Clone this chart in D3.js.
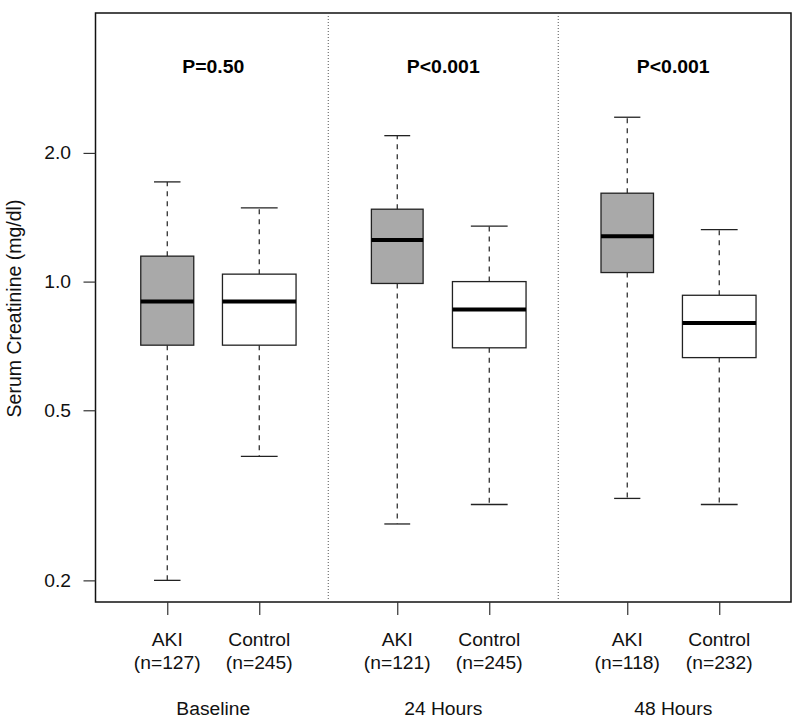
<!DOCTYPE html>
<html>
<head>
<meta charset="utf-8">
<script src="https://cdn.jsdelivr.net/npm/d3@7"></script>
<style>
  html, body { margin: 0; padding: 0; background: #fff; }
  svg { display: block; font-family: "Liberation Sans", Arial, sans-serif; }
</style>
</head>
<body>
<svg id="chart" width="800" height="727"></svg>
<script>
// ---- data ----
const timepoints = ["Baseline", "24 Hours", "48 Hours"];
const pLabels = ["P=0.50", "P<0.001", "P<0.001"];
const categories = ["AKI", "Control"];
const nCounts = [[127, 245], [121, 245], [118, 232]];
// per box, order: Baseline AKI, Baseline Control, 24h AKI, 24h Control, 48h AKI, 48h Control
const whiskerLow  = [0.20, 0.39, 0.271, 0.301, 0.311, 0.301];
const q1          = [0.71, 0.71, 0.99, 0.70, 1.05, 0.664];
const medians     = [0.898, 0.898, 1.252, 0.86, 1.277, 0.80];
const q3          = [1.147, 1.041, 1.477, 1.0, 1.61, 0.929];
const whiskerHigh = [1.711, 1.487, 2.195, 1.348, 2.424, 1.323];
const yTicks = [0.2, 0.5, 1.0, 2.0];
const yTitle = "Serum Creatinine (mg/dl)";

// ---- layout ----
const svg = d3.select("#chart");
const plot = { left: 95.5, right: 791, top: 13, bottom: 602 };
const SX = 1.07;   // horizontal stretch of regular text
const SXB = 1.11;  // horizontal stretch of bold text

const x = d3.scaleLinear().domain([0.22, 7.78]).range([plot.left, plot.right]);
const y = d3.scaleLog().domain([0.178, 4.25]).range([plot.bottom, plot.top]);

const boxes = [];
timepoints.forEach((tp, g) => {
  const maxN = d3.max(nCounts[g]);
  categories.forEach((cat, i) => {
    const k = g * 2 + i;
    boxes.push({
      g, i, cat, tp, n: nCounts[g][i],
      pos: 1 + g * 2.5 + i,
      w: 0.8 * Math.sqrt(nCounts[g][i] / maxN),
      lo: whiskerLow[k], q1: q1[k], med: medians[k], q3: q3[k], hi: whiskerHigh[k]
    });
  });
});

const fills = { "AKI": "#a9a9a9", "Control": "#ffffff" };

function label(px, py, str, size, bold, sx) {
  return svg.append("text")
    .attr("transform", `translate(${px},${py}) scale(${sx},1)`)
    .attr("text-anchor", "middle")
    .attr("font-size", size)
    .attr("font-weight", bold ? "bold" : "normal")
    .attr("fill", bold ? "#000" : "#111")
    .text(str);
}

// separators
[2.75, 5.25].forEach(p => {
  svg.append("line")
    .attr("x1", x(p)).attr("x2", x(p))
    .attr("y1", plot.top + 3).attr("y2", plot.bottom - 3)
    .attr("stroke", "#555").attr("stroke-width", 1)
    .attr("stroke-dasharray", "1,2");
});

// boxes
const bg = svg.append("g");
boxes.forEach(b => {
  const cx = x(b.pos);
  const half = (x(b.pos + b.w / 2) - x(b.pos - b.w / 2)) / 2;
  const g = bg.append("g");
  g.append("line").attr("x1", cx).attr("x2", cx).attr("y1", y(b.q3)).attr("y2", y(b.hi))
    .attr("stroke", "#222").attr("stroke-width", 1.2).attr("stroke-dasharray", "5,5");
  g.append("line").attr("x1", cx).attr("x2", cx).attr("y1", y(b.q1)).attr("y2", y(b.lo))
    .attr("stroke", "#222").attr("stroke-width", 1.2).attr("stroke-dasharray", "5,5");
  [b.hi, b.lo].forEach(v => {
    g.append("line").attr("x1", cx - half / 2).attr("x2", cx + half / 2)
      .attr("y1", y(v)).attr("y2", y(v))
      .attr("stroke", "#222").attr("stroke-width", 1.3);
  });
  g.append("rect")
    .attr("x", cx - half).attr("width", 2 * half)
    .attr("y", y(b.q3)).attr("height", y(b.q1) - y(b.q3))
    .attr("fill", fills[b.cat]).attr("stroke", "#222").attr("stroke-width", 1.3);
  g.append("line").attr("x1", cx - half).attr("x2", cx + half)
    .attr("y1", y(b.med)).attr("y2", y(b.med))
    .attr("stroke", "#000").attr("stroke-width", 4);
});

// frame
svg.append("rect")
  .attr("x", plot.left).attr("y", plot.top)
  .attr("width", plot.right - plot.left).attr("height", plot.bottom - plot.top)
  .attr("fill", "none").attr("stroke", "#111").attr("stroke-width", 1.5);

// y axis
const yAxis = d3.axisLeft(y).tickValues(yTicks).tickFormat(d3.format(".1f")).tickSize(12).tickPadding(12);
const ya = svg.append("g").attr("transform", `translate(${plot.left},0)`).call(yAxis);
ya.select(".domain").remove();
ya.selectAll(".tick line").attr("stroke", "#333").attr("stroke-width", 1.2);
ya.selectAll(".tick text")
  .attr("font-size", 18).attr("fill", "#111")
  .attr("font-family", "'Liberation Sans', Arial, sans-serif")
  .attr("x", -24.5 / SX)
  .attr("transform", `scale(${SX},1)`);

// x axis ticks
const xAxis = d3.axisBottom(x).tickValues(boxes.map(b => b.pos)).tickFormat("").tickSize(13);
const xa = svg.append("g").attr("transform", `translate(0,${plot.bottom})`).call(xAxis);
xa.select(".domain").remove();
xa.selectAll(".tick line").attr("stroke", "#333").attr("stroke-width", 1.2);

// x labels
boxes.forEach(b => {
  label(x(b.pos), 645.5, b.cat, 18, false, SX);
  label(x(b.pos), 669, `(n=${b.n})`, 18, false, SX);
});
timepoints.forEach((tp, g) => {
  const cx = x(1.5 + g * 2.5);
  label(cx, 715, tp, 18, false, SX);
  label(cx, 72.5, pLabels[g], 17.5, true, SXB);
});

// y title
svg.append("text")
  .attr("transform", `translate(21,${(plot.top + plot.bottom) / 2 + 1}) rotate(-90)`)
  .attr("text-anchor", "middle").attr("font-size", 19.5).attr("fill", "#111").text(yTitle);
</script>
</body>
</html>
